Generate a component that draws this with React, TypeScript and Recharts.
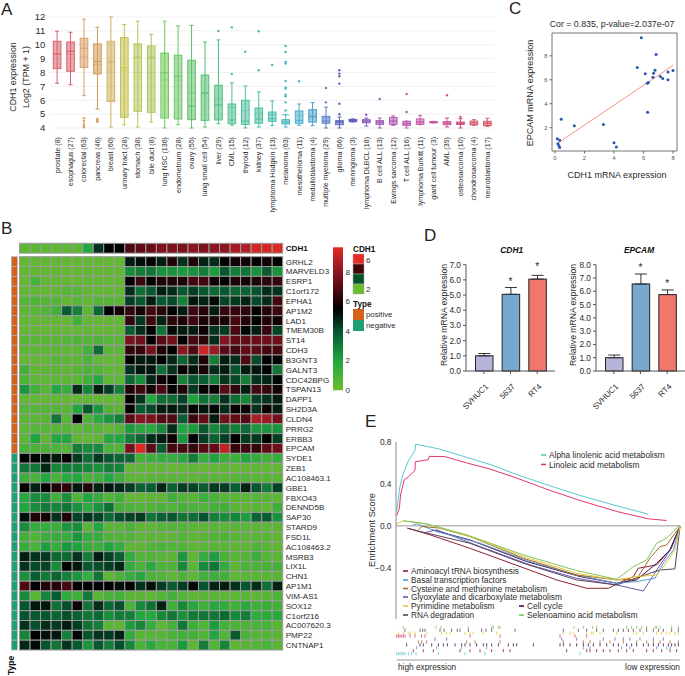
import React from "react";
import { ComposedChart, ScatterChart, LineChart, Bar, Line, Scatter, XAxis, YAxis, CartesianGrid, ReferenceArea, ReferenceLine, ErrorBar } from "recharts";

const FONT = "'Liberation Sans', Arial, sans-serif";
const TXT = "#2b2b2b";

// ---------- Panel A ----------
const tumours = ["prostate (8)","esophagus (27)","colorectal (63)","pancreas (46)","breast (60)","urinary tract (28)","stomach (38)","bile duct (8)","lung NSC (136)","endometrium (28)","ovary (55)","lung small cell (54)","liver (29)","CML (15)","thyroid (12)","kidney (37)","lymphoma Hodgkin (13)","melanoma (63)","mesothelioma (11)","medulloblastoma (4)","multiple myeloma (29)","glioma (66)","meningioma (3)","lymphoma DLBCL (18)","B cell ALL (13)","Ewings sarcoma (12)","T cell ALL (16)","lymphoma Burkitt (11)","giant cell tumour (3)","AML (39)","osteosarcoma (10)","chondrosarcoma (4)","neuroblastoma (17)"];
const wLow = [7.22,7.12,6.33,5.37,4.07,4.22,4.07,4.43,4,4.24,4,4.07,4.31,4.2,4,4.07,4.17,4.07,4.19,4.17,4,4,4.43,4.14,4,4.19,4,4.24,4.36,4.07,4,4.19,4.12];
const q1s = [8.28,8.09,8.37,7.9,5.92,4.77,5.2,5.13,4.72,4.65,4.6,4.55,4.58,4.31,4.26,4.34,4.48,4.29,4.34,4.43,4.34,4.24,4.46,4.38,4.26,4.26,4.19,4.26,4.38,4.24,4.26,4.22,4.17];
const medians = [9.34,9.53,9.75,8.8,8.76,8.33,9.1,9.1,7.97,7.73,5.59,6.52,5.66,4.58,4.5,4.65,4.67,4.43,4.55,4.84,4.5,4.41,4.55,4.5,4.41,4.5,4.31,4.43,4.41,4.36,4.33,4.36,4.34];
const means = [9.3,9.3,9.12,8.57,8.16,8.13,8,7.97,7.46,7.46,6.52,6.52,6.16,5.49,5.25,5.08,4.96,4.94,4.89,4.8,4.72,4.46,4.55,4.5,4.41,4.5,4.31,4.43,4.41,4.36,4.33,4.36,4.34];
const q3s = [10.25,10.2,10.47,10.06,10.25,10.51,10.06,9.91,9.4,9.24,8.88,7.82,7.08,5.73,6,5.44,5.15,4.6,5.23,5.32,4.84,4.53,4.62,4.6,4.53,4.75,4.48,4.65,4.46,4.46,4.43,4.5,4.48];
const wHigh = [10.97,10.9,11.84,11.26,12,11.45,11.7,10.73,11.7,11.36,11.4,10.2,10.35,7.25,7.03,6.6,5.95,4.96,5.73,5.83,5.51,4.79,4.65,4.72,4.72,4.87,4.5,4.91,4.48,4.72,4.67,4.6,4.7];
const outliers: number[][] = [[],[],[4.7,4.5,4.3,4.15,4.05],[4.65,4.55,4.45],[],[],[],[],[],[],[],[],[11],[11.25,7.9],[9.5],[10.97,8.16],[8.54],[9.91,9.48,8.76,8.64,7.39,6.91,6.84,6.4,6.28,5.85,5.27],[7.37],[],[6.88,5.85],[8.16,7.92,7.73,7.2,5.75,4.99],[],[4.96],[6.09],[],[6.45,5.15],[],[],[6.36],[4.79],[],[]];
const boxColors = ["#D9606B","#D9606B","#D8A06A","#CF9A55","#CDB25F","#C4C04A","#B5C65A","#A8C55A","#70C85A","#6CC565","#5CC068","#55BF70","#50BE80","#50BF90","#50BFA0","#4DBE9D","#4DBCB0","#45B8C0","#50AFCE","#4C9FCA","#5B80C8","#5A66BE","#6658BD","#8A5CBD","#A05BB5","#B05CB4","#BE5AAD","#C85AA8","#CC55A0","#D0529A","#CE4C7F","#D55E70","#D85A62"];
const yTicksA = [4,5,6,7,8,9,10,11,12];
const maxOut = 11;
const tableA = tumours.map((name, i) => {
  const row: any = { name, i, lo: wLow[i], q1: q1s[i], med: medians[i], mean: means[i], q3: q3s[i], hi: wHigh[i] };
  for (let k = 0; k < maxOut; k++) row["o" + k] = outliers[i][k] ?? null;
  return row;
});
const BoxShape = (props: any) => {
  const { x, y, width, height, payload } = props;
  const c = boxColors[payload.i];
  const py = (v: number) => y + ((payload.hi - v) / (payload.hi - payload.lo)) * height;
  const cx = x + width / 2;
  return (
    <g stroke={c} strokeWidth={1} fill="none">
      <line x1={cx} x2={cx} y1={py(payload.hi)} y2={py(payload.lo)} />
      <line x1={cx - 2} x2={cx + 2} y1={py(payload.hi)} y2={py(payload.hi)} />
      <line x1={cx - 2} x2={cx + 2} y1={py(payload.lo)} y2={py(payload.lo)} />
      <rect x={x} y={py(payload.q3)} width={width} height={py(payload.q1) - py(payload.q3)} fill={c} fillOpacity={0.55} />
      <line x1={x} x2={x + width} y1={py(payload.med)} y2={py(payload.med)} />
      <line x1={x} x2={x + width} y1={py(payload.mean)} y2={py(payload.mean)} strokeDasharray="2 1" strokeOpacity={0.8} />
    </g>
  );
};
const OutlierDot = (props: any) => {
  const { cx, cy, payload } = props;
  if (cx == null || cy == null || !Number.isFinite(cy)) return null;
  return <circle cx={cx} cy={cy} r={1.2} fill={boxColors[payload.i]} />;
};
const TumourTick = (props: any) => {
  const { x, payload } = props;
  return <text x={x + 2.5} y={137} transform={`rotate(-90 ${x + 2.5} 137)`} textAnchor="end" fontSize={7.1} fontFamily={FONT} fill={TXT}>{payload.value}</text>;
};
const PanelA = () => (
  <div style={{ position: "absolute", left: 0, top: 0 }}>
    <ComposedChart width={500} height={225} data={tableA} margin={{ top: 17, right: 6, bottom: 0, left: 0 }} barCategoryGap={0}>
      <CartesianGrid vertical={false} stroke="#f1f1f1" />
      <XAxis dataKey="name" interval={0} height={97} axisLine={false} tickLine={false} tick={<TumourTick />} />
      <YAxis width={50.3} domain={[4, 12]} ticks={yTicksA} interval={0} axisLine={false} tickLine={false} tickSize={3} tickMargin={2} tick={{ fontSize: 9.5, fill: TXT, fontFamily: FONT }} />
      <Bar dataKey={(d: any) => [d.lo, d.hi]} barSize={7.6} shape={<BoxShape />} isAnimationActive={false} />
      {Array.from({ length: maxOut }, (_, k) => (
        <Scatter key={k} dataKey={"o" + k} shape={<OutlierDot />} isAnimationActive={false} />
      ))}
    </ComposedChart>
  </div>
);

// ---------- Panel B ----------
const genes = ["GRHL2","MARVELD3","ESRP1","C1orf172","EPHA1","AP1M2","LAD1","TMEM30B","ST14","CDH3","B3GNT3","GALNT3","CDC42BPG","TSPAN13","DAPP1","SH2D3A","CLDN4","PRRG2","ERBB3","EPCAM","SYDE1","ZEB1","AC108463.1","GBE1","FBXO43","DENND5B","SAP30","STARD9","FSD1L","AC108463.2","MSRB3","LIX1L","CHN1","AP1M1","VIM-AS1","SOX12","C1orf216","AC007620.3","PMP22","CNTNAP1"];
const cdh1Row = [.5,.5,.5,.5,.5,.5,1.9,4.6,5.5,5.5,6.8,7.1,7.3,7.7,7.7,7.7,8,7.7,8,8,8.5,8.7,9.3,9.3,9.5];
const matrix: number[][] = [
[.4,.4,.4,.4,.4,.4,.4,.4,.4,.4,5,5.2,5.5,5,6,4.6,6,4.9,4.7,5.5,5.8,5.8,5.6,5.8,5.5],
[.4,.4,.4,.4,.4,.4,.4,.4,.4,.4,2.6,3,3.2,2.5,2.5,2.3,2.5,3,2.2,3.9,3,3.2,2.5,3.8,2.5],
[.4,1,.4,.4,.4,.4,.4,.4,.4,.4,5.5,6.5,5.5,6,6,6,6.6,6.6,5.8,5.5,6,5.9,6,6.2,6.4],
[.4,.4,.4,.4,.7,.7,.4,.4,.4,.4,4.7,3.3,3.9,5,4.7,3.9,4.4,3.9,3.5,3.9,3.6,3.6,4,4.7,4.6],
[.7,.8,.7,.7,.4,.6,.4,.7,.7,.6,4.4,3.9,5,3.9,4.2,2.9,5.1,4.9,5.3,4.3,4.5,4.9,4.2,4.7,6.6],
[.5,.6,.8,1.2,3.8,2.9,.5,3.5,5.5,5.8,6.3,5.9,6.6,6.2,5.5,5,6.5,6.1,5,6.4,6.3,6.3,5.5,6.1,6.5],
[.4,.4,.4,.4,.4,1.2,.4,.4,.4,.4,6.3,4.5,6.5,4.9,6.2,6,6.5,6,6,5.9,6.7,6.1,5.5,6.1,5.8],
[.4,.4,.4,.4,.4,.4,.4,.4,.4,.4,3.8,4.7,5.5,3.2,5.3,5,5,5.7,4.6,4.5,6.7,5.4,5,6.4,4.3],
[.6,.6,.6,.6,.7,.8,.7,.9,.7,.7,7.6,7.4,5.6,7,7.4,5.5,6.7,6.2,4.7,7.8,7.2,7.2,7.3,7.4,7.4],
[.5,.5,.5,.5,.5,.5,1.2,3.4,.6,.5,6.3,6.4,7.6,6,5.5,8,6.8,9.2,8.3,7,6.6,7.2,7,6.6,6.7],
[.4,.4,.4,.7,.6,.5,.9,.4,.4,.4,5.5,5,5.1,5.5,4.8,3.6,4.7,6,3,5,4.7,6.8,4.2,5.5,5.4],
[1.1,.4,.5,.6,.5,.7,.9,.8,.4,.4,4.6,5.1,5.1,3.3,4.6,5.6,5.2,5.9,4.7,5,4,5,5.1,5.5,3.2],
[.8,.5,.5,.5,.5,.6,1.1,1.9,.5,.5,3.5,2.6,4.8,5.8,5.5,2.9,4,3.8,3,4.5,4.2,3,4.6,4.8,5.4],
[2.4,1.2,.6,1.9,1.4,4.7,2.8,5,4.4,3,6,6.5,5.8,6.8,5.5,6,4.5,5.6,5.5,7,6.3,5,6.6,6.4,5.8],
[.4,.4,.4,.4,.4,.4,.4,.4,.4,.4,5.5,4.6,1.9,3.4,3.4,4.3,2.1,3.3,3,4.6,3.4,2.8,4.3,4.6,5],
[.7,.7,.7,.7,.6,2,3.9,2.4,.8,.6,5.5,3.8,4.2,5,5.1,4.7,5.5,5.1,5.4,4.7,5.6,5.7,4.6,5.7,5],
[.6,.6,.6,3.2,.7,5.5,.9,1.8,2.4,3,7,7.9,7.7,6.9,6.8,3.8,6.5,7.2,5,7.5,7.2,6.9,8.6,8.3,7.5],
[.5,.7,.7,.7,.7,.5,.7,.7,.4,.7,2.3,1.8,1.8,2.7,4.7,2,2.3,3.9,2.7,3.5,3,3.5,2.4,2.4,2.5],
[.5,2,.5,1.9,2,.5,.4,.5,1.9,1.9,3,3.6,4.7,5,5.7,2.4,5.4,4.4,3.7,4.4,5.5,4.4,4.5,5.5,4.4],
[1,.9,.9,.9,.7,3,2.6,2.7,.9,.8,7.6,9.5,7,3.8,6.6,6.7,6.4,7,7.2,9,6.4,6.6,6.4,7.1,7.4],
[5.5,5.5,5.2,5.1,5.5,4.5,3.4,4.5,3.9,3.6,3.5,1.1,1.3,1.5,1.5,1.8,3,1.5,2,1.3,1.3,2,1.5,1.2,1.5],
[3.2,3.2,4.8,2.8,3,3,2.8,2.5,3,2.8,.4,.5,.4,.5,.4,.4,.5,.4,.4,.5,.4,.4,.5,.4,.4],
[1.3,1,1.9,1,1.8,1.9,1,1.2,2,1.3,.5,.5,.6,.6,.6,.6,.5,.7,.6,.6,.7,.7,.6,.6,.6],
[5.5,4.9,5.5,6,6.2,5.1,6,4.9,5.1,4.8,4.4,3.7,3.8,4.8,3.7,4.4,4.3,3.8,4.5,4.4,3.8,4.9,4,3.1,4.3],
[1.8,2.6,2.6,1.2,2.6,.8,2,1.5,.8,1.2,.4,.4,.5,.5,1.2,.7,.6,1.3,1,.6,.6,.6,.7,.6,.5],
[2,2.6,3.1,2.8,3.2,2.5,1.7,2.5,3.3,1.1,.9,.8,.8,1,.8,1.1,1,.8,1.1,1.2,.6,.5,.6,.4,1.3],
[5.2,6,5.8,4.6,6,4.3,4.6,4.3,3.5,4.1,4.3,4.5,3.2,3.7,3.9,3.2,3.4,4,2.9,2.6,2.8,2.2,3.6,3.8,2.5],
[2.6,1.5,1.5,1.4,2.4,2.6,.6,1.9,.6,.6,1,.5,.5,.7,.7,.8,.6,.5,.6,.5,.6,.6,.5,.5,.6],
[1.2,.8,1.3,1.4,1.5,2.4,1.5,1.5,.8,.8,.8,.5,.6,.5,.5,.8,.5,.6,.8,.9,.6,.6,.6,.6,.5],
[1.4,1,2.2,1.4,2.4,2.1,1.4,1.3,2,1.5,.5,.5,.8,1,.8,.8,.5,.6,.6,.6,.5,.5,.9,.6,.5],
[5,4.6,4.5,3.5,3.5,4.6,3,5,4.3,3.7,1.5,.8,.8,.7,.6,2.4,.5,1.5,2.2,1,.7,.7,1.3,.7,.6],
[4.6,4.2,4.3,2.6,5.5,5.1,3.9,4.1,4.4,4.8,1.6,1,1.7,.9,.9,2.7,.6,2.7,3.2,1.6,.5,1,.9,1,1.1],
[2.5,3.8,3.1,3.6,2.9,2.4,1.5,3.2,.5,1,1.5,1.9,1,.8,.5,.9,.5,1.2,1.3,1.2,.5,.6,.6,.6,.6],
[6.8,5.5,6,6.1,6.7,5.5,5.5,5.5,5.5,5.2,5.5,4.6,5.2,4.4,3.8,4.4,5.4,4,4.9,5,4.6,4,4.7,3.3,4.9],
[2.7,.6,2.8,3.8,1.6,1.2,3.1,.6,1,1.1,.6,.6,.5,.7,1.1,.7,.5,.6,.6,.5,.5,.6,.5,.6,.9],
[4,5.1,5.1,3.3,4.1,5.7,3.2,4.7,3.5,4.1,1,2.7,3.3,4.9,1.2,2.7,1.9,1.2,1.8,1.6,1.2,1.8,1.2,1.4,1.1],
[4,3.9,4,3.6,4.1,3.7,3.2,3.5,2.6,3.1,3,1.9,1.8,2.7,3.2,2.5,3.1,3.2,3.2,3.5,2.7,3,1.6,1.7,1.8],
[4.6,4.1,4.7,4.5,5,4.4,3.3,3,.6,.5,2.2,2.8,1.5,.5,1.1,3.2,1.3,.8,2.2,1.1,.9,.9,.9,1,.6],
[2.8,5.5,5.2,5.1,2.9,5.4,4,4.6,4.5,4.9,1.6,.6,.7,.7,1,1.2,1.1,.8,2,.8,3.8,1,.7,.7,.6],
[4.8,5.3,4,3.2,4.6,3.9,2.4,3.9,3,4.1,2.7,1,1.7,1,1,2.3,.5,3,.8,2.8,.5,.6,.7,1,.6],
];
const heatStops: [number, number[]][] = [[0,[112,190,46]],[2,[30,167,63]],[4,[5,85,46]],[5.5,[0,0,0]],[7,[90,10,20]],[8.5,[165,28,37]],[9.66,[229,43,36]]];
const heatColor = (v: number) => {
  for (let i = 1; i < heatStops.length; i++) {
    if (v <= heatStops[i][0]) {
      const [a, ca] = heatStops[i - 1]; const [b, cb] = heatStops[i];
      const t = (v - a) / (b - a);
      return `rgb(${ca.map((c, k) => Math.round(c + (cb[k] - c) * t)).join(",")})`;
    }
  }
  return "rgb(229,43,36)";
};
const COL_W = 10.53, ROW_H = 9.83;
const heatCells = matrix.flatMap((row, r) => row.map((value, c) => ({ x: c + 0.5, y: r + 0.5, value })));
const annotCells = cdh1Row.map((value, c) => ({ x: c + 0.5, y: -0.86, value }));
const typeCells = genes.map((g, r) => ({ x: -0.49, y: r + 0.5, positive: r < 20 }));
const HeatCell = (props: any) => {
  const { cx, cy, payload } = props;
  return <rect x={cx - COL_W / 2} y={cy - ROW_H / 2} width={COL_W} height={ROW_H} fill={heatColor(payload.value)} stroke="#9a9a9a" strokeWidth={1} />;
};
const TypeCell = (props: any) => {
  const { cx, cy, payload } = props;
  return <rect x={cx - 3} y={cy - ROW_H / 2} width={6} height={ROW_H} fill={payload.positive ? "#D4621A" : "#1F9E78"} stroke="#b5b5b5" strokeWidth={0.7} />;
};
const geneTicks = [-0.86, ...genes.map((g, i) => i + 0.5)];
const GeneTick = (props: any) => {
  const { y, payload } = props;
  const isHead = payload.value < 0;
  return <text x={285.7} y={y + 3} fontSize={8.1} fontWeight={isHead ? 700 : 400} fontFamily={FONT} fill={isHead ? "#111" : TXT}>{isHead ? "CDH1" : genes[Math.floor(payload.value)]}</text>;
};
const PanelB = () => (
  <div style={{ position: "absolute", left: 0, top: 240 }}>
    <ScatterChart width={340} height={420} margin={{ top: 3.3, right: 0, bottom: 10, left: 11.3 }}>
      <XAxis type="number" dataKey="x" domain={[-0.78, 25]} hide />
      <YAxis type="number" dataKey="y" orientation="right" reversed domain={[-1.36, 40]} ticks={geneTicks} interval={0} width={57.3} axisLine={false} tickLine={false} tick={<GeneTick />} />
      <Scatter data={heatCells} shape={<HeatCell />} isAnimationActive={false} />
      <Scatter data={annotCells} shape={<HeatCell />} isAnimationActive={false} />
      <Scatter data={typeCells} shape={<TypeCell />} isAnimationActive={false} />
    </ScatterChart>
  </div>
);

// ---------- Panel C ----------
const cdh1Expr = [5.85,6.85,5.58,6.78,6.12,6.69,7.66,8,6.64,7.14,7.3,7.66,6.33,6.26,6.28,0.43,1.31,3.28,4,4.16,0.16,0.32,0.2,0.27,0.32];
const epcamExpr = [9.5,8.1,7.03,6.8,6.5,6.55,6.64,6.78,6.2,6.28,6.1,6,5.78,5.7,3.3,2.7,2.17,2.28,0.75,0.39,1.08,0.95,0.67,0.5,0.36];
const tableC = cdh1Expr.map((x, i) => ({ x, y: epcamExpr[i] }));
const PanelC = () => (
  <div style={{ position: "absolute", left: 520, top: 0 }}>
    <ScatterChart width={165} height={170} margin={{ top: 33, right: 8, bottom: 0, left: 0 }}>
      <XAxis type="number" dataKey="x" domain={[-0.2, 8.27]} ticks={[0, 2, 4, 6, 8]} height={19} axisLine={false} tickSize={2.5} stroke="#666" tick={{ fontSize: 5.8, fill: "#555", fontFamily: FONT }} />
      <YAxis type="number" dataKey="y" domain={[0.06, 9.9]} ticks={[2, 4, 6, 8]} width={32} axisLine={false} tickSize={2.5} stroke="#666" tick={{ fontSize: 5.8, fill: "#555", fontFamily: FONT }} />
      <ReferenceArea x1={-0.2} x2={8.27} y1={0.06} y2={9.9} fill="none" stroke="#666" strokeWidth={0.9} />
      <ReferenceLine segment={[{ x: 0.2, y: 0.72 }, { x: 8, y: 7.2 }]} stroke="#F08A78" strokeWidth={0.9} />
      <Scatter data={tableC} fill="#2A55B0" shape={(p: any) => <circle cx={p.cx} cy={p.cy} r={1.5} fill="#2A55B0" />} isAnimationActive={false} />
    </ScatterChart>
  </div>
);

// ---------- Panel D ----------
const cellLines = ["SVHUC1", "5637", "RT4"];
const cdh1Bars = [1.0, 5.05, 6.05];
const cdh1Err = [0.15, 0.45, 0.25];
const cdh1Star = [null, 5.95, 6.9];
const epcamBars = [1.0, 6.55, 5.75];
const epcamErr = [0.2, 0.75, 0.35];
const epcamStar = [null, 7.85, 6.6];
const barColors = ["#B6B4DB", "#79A8CE", "#F0776B"];
const makeBars = (v: number[], e: number[], s: (number | null)[]) => cellLines.map((name, i) => ({ name, i, v: v[i], err: [0, e[i]], star: s[i] }));
const ColorBar = (p: any) => <rect x={p.x} y={p.y} width={p.width} height={p.height} fill={barColors[p.payload.i]} stroke="#222" strokeWidth={1} />;
const Star = (p: any) => (p.cy == null || !Number.isFinite(p.cy) ? null : <text x={p.cx} y={p.cy + 4} textAnchor="middle" fontSize={10} fontFamily={FONT} fill="#222">*</text>);
const CellTick = (p: any) => <text x={p.x + 5} y={p.y + 11} transform={`rotate(-45 ${p.x + 5} ${p.y + 11})`} textAnchor="end" fontSize={8} fontFamily={FONT} fill={TXT}>{p.payload.value}</text>;
const BarPanel = ({ left, data, max }: any) => (
  <div style={{ position: "absolute", left, top: 250 }}>
    <ComposedChart width={135} height={165} data={data} margin={{ top: 14.7, right: 0, bottom: 0, left: 0 }}>
      <XAxis dataKey="name" interval={0} height={44} padding={{ left: 4.5, right: 4.5 }} stroke="#555" tickSize={3} tick={<CellTick />} />
      <YAxis width={46} domain={[0, max]} ticks={Array.from({ length: max + 1 }, (_, i) => i)} interval={0} tickFormatter={(v: number) => v.toFixed(1)} stroke="#555" tickSize={3} tick={{ fontSize: 8.3, fill: TXT, fontFamily: FONT }} />
      <Bar dataKey="v" barSize={17.5} shape={<ColorBar />} isAnimationActive={false}>
        <ErrorBar dataKey="err" direction="y" width={6} stroke="#333" strokeWidth={1} isAnimationActive={false} />
      </Bar>
      <Scatter dataKey="star" shape={<Star />} isAnimationActive={false} />
    </ComposedChart>
  </div>
);

// ---------- Panel E ----------
type P = { r: number; es: number };
const pts = (a: number[][]): P[] => a.map(([r, es]) => ({ r, es }));
const alphaLinolenic = pts([[.23,.137],[1.4,.376],[2.6,.504],[4.3,.615],[6.7,.72],[6.9,.778],[14.9,.736],[23.7,.663],[33.1,.586],[43.7,.478],[54.2,.382],[64.8,.29],[76.5,.2],[88.8,.112]]);
const linoleic = pts([[.23,.096],[1.2,.169],[1.6,.296],[2.9,.44],[4.3,.465],[6.7,.529],[6.8,.612],[11.4,.631],[11.7,.663],[17.3,.66],[24.9,.6],[33.1,.542],[42.5,.456],[54.2,.338],[64.8,.242],[77.7,.137],[88.8,.067],[95.3,.051]]);
const aminoacyl = pts([[4,-.022],[12,-.086],[26,-.214],[43.7,-.389],[56.6,-.516],[67.1,-.596],[74.8,-.596],[78.3,-.548],[83.6,-.484],[85.3,-.405],[91.8,-.373],[96.5,-.229],[100,-.006]]);
const basalTF = pts([[6.1,.01],[7.3,.02],[14.3,-.054],[29.6,-.166],[47.2,-.341],[63.6,-.469],[77.7,-.548],[84.7,-.532],[91.2,-.5],[94.1,-.357],[97.7,-.229],[100,-.006]]);
const cysteine = pts([[7.9,-.038],[9,-.006],[15.5,-.022],[26,-.102],[44.8,-.309],[63.6,-.469],[77.7,-.516],[84.7,-.51],[89.4,-.309],[93,-.198],[95.3,-.182],[100,-.006]]);
const glyoxylate = pts([[10.2,-.064],[14.3,-.038],[29.6,-.198],[47.2,-.373],[63.6,-.5],[77.7,-.564],[87.1,-.622],[88.8,-.548],[93,-.373],[97,-.214],[100,-.006]]);
const pyrimidine = pts([[.2,.019],[2.6,.048],[10.8,.019],[26,-.102],[44.8,-.293],[63.6,-.453],[77.7,-.516],[84.7,-.484],[91.8,-.469],[94.7,-.373],[98.2,-.229],[100,-.006]]);
const rnaDegradation = pts([[4,-.022],[8.5,-.054],[26,-.166],[44.8,-.357],[63.6,-.516],[77.7,-.564],[85.9,-.484],[93,-.421],[98.2,-.411],[100,-.006]]);
const cellCycle = pts([[12.6,-.038],[26,-.134],[46,-.341],[64.8,-.484],[77.7,-.548],[84.7,-.516],[91.8,-.357],[96.5,-.229],[100,-.006]]);
const selenoamino = pts([[2.6,.048],[10.8,.019],[24.9,-.086],[44.8,-.277],[63.6,-.427],[77.7,-.51],[83.6,-.389],[88.3,-.325],[91.8,-.166],[95.3,-.118],[99.4,-.006]]);
const C_TEAL = "#5CC8D0", C_PINK = "#E0386F", C_RED = "#8B2232", C_BLUE = "#5B9BD5", C_BROWN = "#A5692A", C_PURPLE = "#6A5AB0", C_YELLOW = "#E0C93A", C_RNA = "#5A4060", C_CYCLE = "#3C1450", C_GREEN = "#7CC45A";
const gseaLines: [P[], string][] = [[aminoacyl,C_RED],[glyoxylate,C_PURPLE],[rnaDegradation,C_RNA],[cellCycle,C_CYCLE],[basalTF,C_BLUE],[cysteine,C_BROWN],[pyrimidine,C_YELLOW],[selenoamino,C_GREEN],[alphaLinolenic,C_TEAL],[linoleic,C_PINK]];
const PanelE = () => (
  <div style={{ position: "absolute", left: 370, top: 430 }}>
    <LineChart width={315} height={195} margin={{ top: 12, right: 5, bottom: 6, left: 0 }}>
      <XAxis type="number" dataKey="r" domain={[0, 100]} hide />
      <YAxis width={26} domain={[-0.889, 0.8]} ticks={[-0.4, 0, 0.4, 0.8]} interval={0} stroke="#888" tickLine={false} tickSize={3} tickMargin={1.5} tickFormatter={(v: number) => v.toFixed(1).replace("-", "\u2212")} tick={{ fontSize: 8.3, fill: TXT, fontFamily: FONT }} />
      <ReferenceLine y={0} stroke="#999" strokeWidth={1} />
      {gseaLines.map(([d, c], i) => (
        <Line key={i} data={d} dataKey="es" type="linear" stroke={c} strokeWidth={1} dot={false} isAnimationActive={false} />
      ))}
    </LineChart>
  </div>
);
const rugGreen = [100,198,213,295,365,370,385,390,612,640,668,680,770,785,800,815,830,855,860,870,905,925];
const rugRna = [105,150,158,165,210,222,245,262,270,295,335,348,365,435,580,625,650,680,700,730,745,760,775,790,810,830,850,865,880,905,925];
const rugYellow = [85,100,115,122,135,170,215,230,240,285,300,310,340,380,580,600,610,650,665,670,690,740,790,800,820,860,875,890,900,915,925];
const rugPink = [80,85,90,95,100,105,120,135,155,165,300,390,570,615,650];
const rugPurple = [195,230,575,620,700,735,760,780,810,850,880];
const rugBrown = [145,155,170,290,315,390,580,640,660,690,720,760,800,830,850,870,900,925];
const rugCycle = [110,150,160,185,205,220,232,255,275,285,300,320,340,350,365,385,415,430,440,490,570,580,600,620,640,655,670,690,710,730,745,770,785,800,820,835,850,865,880,895,905,915,925];
const rugBlue = [140,200,275,350,640,660,755,780,860,890,900];
const rugRed = [130,160,190,270,300,330,365,400,420,590,650,660,680,700,720,745,770,790,830,850,875,900,920];
const rugCyan = [80,85,90,95,100,105,115,125,138,205,285,345,630];
const rugRows: [number[], string][] = [[rugGreen,C_GREEN],[rugRna,C_RNA],[rugYellow,C_YELLOW],[rugPink,C_PINK],[rugPurple,C_PURPLE],[rugBrown,C_BROWN],[rugCycle,C_CYCLE],[rugBlue,C_BLUE],[rugRed,C_RED],[rugCyan,C_TEAL]];
const Rug = ({ color }: { color: string }) => (props: any) => <line x1={props.cx} x2={props.cx} y1={props.cy - 1.6} y2={props.cy + 1.6} stroke={color} strokeWidth={0.8} />;
const PanelRug = () => (
  <div style={{ position: "absolute", left: 390, top: 620 }}>
    <ScatterChart width={295} height={42} margin={{ top: 5, right: 5, bottom: 6, left: 6 }}>
      <XAxis type="number" dataKey="x" domain={[78, 930]} hide />
      <YAxis type="number" dataKey="y" domain={[-0.8, 9.8]} reversed hide />
      {rugRows.map(([xs, c], i) => (
        <Scatter key={i} data={xs.map((x) => ({ x, y: i }))} shape={Rug({ color: c })} isAnimationActive={false} />
      ))}
    </ScatterChart>
  </div>
);

// ---------- Text, legends ----------
const T = ({ x, y, s = 8.3, w, a, c = TXT, i, rot, children }: any) => (
  <text x={x} y={y} fontSize={s} fontWeight={w} fontStyle={i} textAnchor={a} fill={c} fontFamily={FONT} transform={rot ? `rotate(${rot} ${x} ${y})` : undefined}>{children}</text>
);
const gseaLegendTop: [string, string, number][] = [["Alpha linolenic acid metabolism", C_TEAL, 455], ["Linoleic acid metabolism", C_PINK, 464.5]];
const gseaLegend: [string, string, number, number][] = [["Aminoacyl tRNA biosynthesis",C_RED,403,571],["Basal transcription factors",C_BLUE,403,580],["Cysteine and methionine metabolism",C_BROWN,403,588.5],["Glyoxylate and dicarboxylate metabolism",C_PURPLE,403,597],["Pyrimidine metabolism",C_YELLOW,403,606],["RNA degradation",C_RNA,403,615],["Cell cycle",C_CYCLE,519,606],["Selenoamino acid metabolism",C_GREEN,519,615]];
const Overlay = () => (
  <svg width={685} height={676} style={{ position: "absolute", left: 0, top: 0, pointerEvents: "none" }}>
    <defs>
      <linearGradient id="hg" x1="0" y1="1" x2="0" y2="0">
        {heatStops.map(([v, c], i) => <stop key={i} offset={v / 9.66} stopColor={`rgb(${c.join(",")})`} />)}
      </linearGradient>
    </defs>
    <T x={1} y={15} s={17} c="#222">A</T>
    <T x={1} y={234} s={17} c="#222">B</T>
    <T x={509} y={14} s={17} c="#222">C</T>
    <T x={424} y={241} s={17} c="#222">D</T>
    <T x={365} y={427} s={17} c="#222">E</T>
    <T x={16} y={77} s={8.9} a="middle" rot={-90}>CDH1 expression</T>
    <T x={29} y={77} s={8.9} a="middle" rot={-90}>Log2 (TPM + 1)</T>
    <T x={612} y={27} s={8.8} a="middle">Cor = 0.835, p-value=2.037e-07</T>
    <T x={617} y={178} s={9} a="middle">CDH1 mRNA expression</T>
    <T x={533} y={93} s={9} a="middle" rot={-90}>EPCAM mRNA expression</T>
    <T x={14} y={675} s={8.5} w={700} rot={-90} c="#111">Type</T>
    <rect x={333} y={247.3} width={10} height={143} fill="url(#hg)" />
    {[0, 2, 4, 6, 8].map((v) => <T key={v} x={345.5} y={392.5 - v * 14.75} s={8}>{v}</T>)}
    <T x={353} y={252} s={8.2} w={700} c="#111">CDH1</T>
    {["#E52B24", "#3E050C", "#05532C", "#6BBB2E"].map((c, i) => <rect key={c} x={353} y={254 + i * 10} width={11} height={10} fill={c} stroke="#aaa" strokeWidth={0.5} />)}
    <T x={366} y={263} s={8}>6</T>
    <T x={366} y={292} s={8}>2</T>
    <T x={353} y={307} s={8.2} w={700} c="#111">Type</T>
    <rect x={353} y={309} width={11} height={11} fill="#D4621A" />
    <rect x={353} y={320} width={11} height={11} fill="#1F9E78" />
    <T x={366} y={317} s={7.8}>positive</T>
    <T x={366} y={328} s={7.8}>negative</T>
    <T x={511.7} y={253} s={8.4} w={700} i="italic" a="middle" c="#111">CDH1</T>
    <T x={639} y={253} s={8.4} w={700} i="italic" a="middle" c="#111">EPCAM</T>
    <T x={447} y={315} s={8.6} a="middle" rot={-90}>Relative  mRNA expression</T>
    <T x={576} y={315} s={8.6} a="middle" rot={-90}>Relative  mRNA expression</T>
    <T x={375} y={530} s={9.3} a="middle" rot={-90}>Enrichment Score</T>
    {gseaLegendTop.map(([t, c, y]) => (
      <g key={t}>
        <rect x={541} y={y - 0.8} width={5} height={1.6} fill={c} />
        <T x={549} y={y + 3}>{t}</T>
      </g>
    ))}
    {gseaLegend.map(([t, c, x, y]) => (
      <g key={t}>
        <rect x={x} y={y - 0.8} width={5} height={1.6} fill={c} />
        <T x={x + 8} y={y + 3}>{t}</T>
      </g>
    ))}
    <line x1={397} x2={680} y1={660} y2={660} stroke="#999" strokeWidth={1} />
    <T x={398} y={670}>high expression</T>
    <T x={680} y={670} a="end">low expression</T>
  </svg>
);

export default function App() {
  return (
    <div style={{ position: "absolute", left: 0, top: 0, width: 685, height: 676, overflow: "hidden", background: "#fff" }}>
      <PanelA />
      <PanelB />
      <PanelC />
      <BarPanel left={420} data={makeBars(cdh1Bars, cdh1Err, cdh1Star)} max={7} />
      <BarPanel left={550} data={makeBars(epcamBars, epcamErr, epcamStar)} max={8} />
      <PanelE />
      <PanelRug />
      <Overlay />
    </div>
  );
}
